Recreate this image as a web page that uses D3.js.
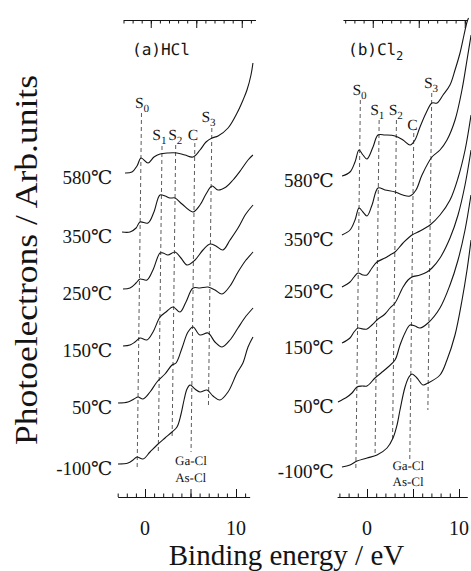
<!DOCTYPE html>
<html>
<head>
<meta charset="utf-8">
<script src="https://cdn.jsdelivr.net/npm/d3@7"></script>
<style>
  body { margin: 0; background: #fff; }
  svg { display: block; }
</style>
</head>
<body>
<svg id="chart" width="471" height="571"></svg>
<script>
const temps = ["580℃", "350℃", "250℃", "150℃", "50℃", "-100℃"]
const peakNames = ["S0", "S1", "S2", "C", "S3"]
const majorTicks = [0, 5, 10]
const tickLabels = [0, 10]

// (a) HCl : binding energy (eV), intensity above each trace's own baseline (arb.)
const hclOffsets = [324, 265, 208, 151, 94, 33]
const hclPeaks = [-0.9, 1.4, 2.9, 5.0, 6.85]
const hclPeakTop = [384, 351, 352, 354, 369]
const hclPeakBottom = [29, 44, 60, 45, 92]
const hclNameE = [-0.85, 1.1, 2.85, 4.8, 6.48]
const hclNameV = [389, 357, 357, 357, 375]
const hcl580 = [[-2.63,0],[-1.87,1],[-1.32,7],[-0.89,15],[-0.12,10],[0.53,16],[1.19,19],[2.07,20],[3.05,20],[3.93,18],[4.82,16],[5.58,23],[6.23,31],[6.88,35],[7.54,37],[8.63,45],[9.6,60],[10.24,73],[10.66,83],[11.08,98],[11.28,110]]
const hcl350 = [[-2.88,0],[-2.0,0],[-1.34,4],[-0.92,10],[-0.04,9],[0.6,20],[1.24,37],[1.8,36],[2.34,34],[2.9,34],[3.67,28],[4.89,20],[5.65,27],[6.3,38],[6.95,46],[7.61,42],[8.49,45],[9.25,52],[10.1,62],[10.87,72],[11.4,77]]
const hcl250 = [[-2.7,0],[-1.93,1],[-1.27,6],[-0.84,10],[-0.07,9],[0.57,19],[1.32,36],[1.65,36],[2.2,34],[2.97,37],[3.63,31],[4.3,24],[5.18,29],[6.04,39],[6.8,45],[7.46,43],[8.23,39],[9.0,49],[9.86,61],[10.7,75],[11.48,84]]
const hcl150 = [[-2.62,0],[-1.86,1],[-1.31,4],[-0.76,8],[0.0,6],[0.66,14],[1.41,29],[2.06,34],[2.82,39],[3.6,34],[4.24,44],[5.0,58],[5.76,58],[6.64,59],[7.42,56],[8.19,52],[9.06,60],[9.92,74],[10.78,86],[11.54,94]]
const hcl50 = [[-3.09,0],[-1.99,1],[-1.34,4],[-0.9,6],[-0.35,4],[0.41,11],[1.16,21],[2.03,29],[2.79,38],[3.23,40],[3.87,55],[4.5,71],[5.05,76],[5.82,68],[6.7,70],[7.48,61],[8.26,56],[9.13,63],[9.99,75],[10.86,87],[11.62,95]]
const hclM100 = [[-3.01,0],[-1.91,1],[-1.36,4],[-0.93,7],[-0.27,5],[0.49,12],[1.25,19],[2.12,26],[2.88,32],[3.42,37],[3.85,50],[4.16,64],[4.47,75],[4.8,79],[5.35,75],[5.9,72],[6.67,74],[7.34,68],[8.11,64],[8.98,72],[9.94,91],[10.58,101],[11.12,117],[11.65,127]]

// (b) Cl2
const cl2Offsets = [321, 262, 210, 154, 95, 30]
const cl2Peaks = [-1.25, 0.82, 2.7, 4.6, 6.5]
const cl2PeakTop = [397, 377, 377, 364, 404]
const cl2PeakBottom = [27, 42, 55, 35, 87]
const cl2NameE = [-1.35, 0.62, 2.62, 4.45, 6.41]
const cl2NameV = [402, 382, 382, 367, 409]
const cl2580 = [[-3.14,0],[-2.28,4],[-1.75,14],[-1.33,26],[-0.89,21],[-0.45,17],[0.19,29],[0.71,41],[1.48,41],[2.57,40],[3.44,36],[4.21,31],[4.74,36],[5.27,49],[5.91,63],[6.54,73],[7.09,73],[7.73,81],[8.47,91],[9.0,106],[9.52,123],[9.93,141],[10.24,154],[10.4,158]]
const cl2350 = [[-3.07,0],[-2.2,5],[-1.67,15],[-1.25,27],[-0.82,23],[-0.37,19],[0.16,30],[0.79,47],[1.55,45],[2.64,43],[3.5,40],[4.27,39],[4.92,45],[5.55,60],[6.61,78],[7.47,85],[8.22,95],[9.07,115],[9.78,145],[10.29,175],[10.7,200]]
const cl2250 = [[-3.0,0],[-2.13,5],[-1.7,10],[-1.27,14],[-0.73,12],[-0.3,12],[0.24,19],[0.77,25],[1.64,29],[2.18,32],[2.72,35],[3.58,44],[4.54,52],[5.41,56],[6.16,60],[6.49,62],[7.56,72],[8.63,87],[9.47,109],[10.2,137],[10.8,172]]
const cl2150 = [[-2.92,0],[-2.06,5],[-1.63,11],[-1.2,15],[-0.66,14],[-0.22,14],[0.31,18],[0.85,23],[1.71,29],[2.25,35],[2.79,40],[3.64,56],[4.17,63],[4.6,66],[5.47,68],[6.22,71],[6.76,75],[7.62,85],[8.68,105],[9.52,128],[10.24,158],[10.85,193]]
const cl250 = [[-3.28,0],[-2.3,5],[-1.77,9],[-1.23,15],[-0.69,16],[-0.15,16],[0.71,24],[1.36,29],[2.0,34],[2.86,42],[3.39,57],[3.91,69],[4.45,77],[4.99,76],[5.54,74],[6.4,79],[7.68,94],[8.74,117],[9.58,142],[10.3,172],[10.9,207]]
const cl2M100 = [[-2.76,0],[-1.89,2],[-1.13,6],[-0.05,9],[1.03,12],[2.11,19],[2.75,29],[3.17,42],[3.47,57],[3.99,80],[4.4,90],[4.73,93],[5.27,89],[5.94,82],[6.48,84],[7.77,92],[8.51,107],[9.35,132],[10.07,167],[10.57,197],[10.97,227]]

const serif = "'Liberation Serif', 'Times New Roman', 'DejaVu Serif', serif"
const ink = "#141414"

const svg = d3.select("#chart")
const yBase = 497
const y = d3.scaleLinear().domain([0, 480]).range([yBase, yBase - 480])
const line = d3.line().curve(d3.curveCatmullRom.alpha(0.5))

const panels = [
  { title: "(a)HCl", sub: "", titleE: -2.02, x0: 145, k: 9.1, bottom: [-3, 11.5], top: [-3, 11.5],
    offsets: hclOffsets, spectra: [hcl580, hcl350, hcl250, hcl150, hcl50, hclM100],
    peaks: hclPeaks, peakTop: hclPeakTop, peakBottom: hclPeakBottom, nameE: hclNameE, nameV: hclNameV,
    bondE: 5.0, bondV: [32, 15] },
  { title: "(b)Cl", sub: "2", titleE: -2.65, x0: 367, k: 9.2, bottom: [-3.25, 10.9], top: [-3.25, 10.25],
    offsets: cl2Offsets, spectra: [cl2580, cl2350, cl2250, cl2150, cl250, cl2M100],
    peaks: cl2Peaks, peakTop: cl2PeakTop, peakBottom: cl2PeakBottom, nameE: cl2NameE, nameV: cl2NameV,
    bondE: 4.45, bondV: [27, 11] }
]

panels.forEach(p => {
  const x = d3.scaleLinear().domain([0, 10]).range([p.x0, p.x0 + 10 * p.k])
  const xb = x.copy().domain(p.bottom).range(p.bottom.map(x))
  const xt = x.copy().domain(p.top).range(p.top.map(x))

  // bottom axis (ticks point up)
  const gb = svg.append("g").attr("transform", `translate(0,${yBase})`)
  gb.call(d3.axisTop(xb).tickValues(d3.range(Math.ceil(p.bottom[0]), p.bottom[1])).tickSize(3.5).tickSizeOuter(0).tickFormat(""))
  gb.call(g => g.append("g").call(d3.axisTop(xb).tickValues(majorTicks).tickSize(8).tickFormat("")).select(".domain").remove())
  gb.selectAll("path, line").attr("stroke", ink).attr("stroke-width", 1)

  svg.append("g").selectAll("text").data(tickLabels).join("text")
    .attr("x", d => x(d)).attr("y", 535)
    .attr("text-anchor", "middle")
    .attr("font-family", serif).attr("font-size", 20).attr("fill", ink)
    .text(d => d)

  // temperature labels
  svg.append("g").selectAll("text").data(temps).join("text")
    .attr("x", x(-3.6))
    .attr("y", (d, i) => y(p.offsets[i]) + 4)
    .attr("dy", "0.35em")
    .attr("text-anchor", "end")
    .attr("font-family", serif).attr("font-size", 19).attr("fill", ink)
    .text(d => d)

  // the scanned figure is slightly sheared
  const g = svg.append("g")
    .attr("transform", `translate(0,${yBase}) skewX(-0.7) translate(0,${-yBase})`)

  const gt = g.append("g").attr("transform", `translate(0,${y(477)})`)
  gt.call(d3.axisBottom(xt).tickValues(d3.range(Math.ceil(p.top[0]), p.top[1])).tickSize(3.5).tickSizeOuter(0).tickFormat(""))
  gt.call(gg => gg.append("g").call(d3.axisBottom(xt).tickValues(majorTicks).tickSize(8).tickFormat("")).select(".domain").remove())
  gt.selectAll("path, line").attr("stroke", ink).attr("stroke-width", 1)

  const title = g.append("text")
    .attr("x", x(p.titleE)).attr("y", y(442))
    .attr("font-family", "'DejaVu Sans Mono', 'Liberation Mono', monospace")
    .attr("font-size", 16).attr("fill", ink)
    .text(p.title)
  if (p.sub) title.append("tspan").attr("dy", 5).attr("font-size", 12).text(p.sub)

  // peak guide lines
  g.append("g").selectAll("line").data(p.peaks).join("line")
    .attr("x1", d => x(d)).attr("x2", d => x(d))
    .attr("y1", (d, i) => y(p.peakTop[i])).attr("y2", (d, i) => y(p.peakBottom[i]))
    .attr("stroke", "#333").attr("stroke-width", 0.8)
    .attr("stroke-dasharray", "4,3")

  // peak names
  const names = g.append("g").selectAll("text").data(peakNames).join("text")
    .attr("x", (d, i) => x(p.nameE[i])).attr("y", (d, i) => y(p.nameV[i]))
    .attr("text-anchor", "middle")
    .attr("font-family", serif).attr("font-size", 15.5).attr("fill", ink)
  names.append("tspan").text(d => d[0])
  names.filter(d => d.length > 1).append("tspan")
    .attr("dy", 4).attr("font-size", 11).text(d => d.slice(1))

  // spectra
  g.append("g").selectAll("path").data(p.spectra).join("path")
    .attr("d", (s, i) => line(s.map(([e, v]) => [x(e), y(v + p.offsets[i])])))
    .attr("fill", "none").attr("stroke", ink).attr("stroke-width", 1.1)

  g.append("g").selectAll("text").data(["Ga-Cl", "As-Cl"]).join("text")
    .attr("x", x(p.bondE)).attr("y", (d, i) => y(p.bondV[i]))
    .attr("text-anchor", "middle")
    .attr("font-family", serif).attr("font-size", 13).attr("fill", ink)
    .text(d => d)
})

svg.append("text")
  .attr("transform", "translate(37,260) rotate(-90)")
  .attr("text-anchor", "middle")
  .attr("font-family", serif).attr("font-size", 32).attr("fill", ink)
  .attr("textLength", 370).attr("lengthAdjust", "spacingAndGlyphs")
  .text("Photoelectrons / Arb.units")

svg.append("text")
  .attr("x", 286.5).attr("y", 565)
  .attr("text-anchor", "middle")
  .attr("font-family", serif).attr("font-size", 29).attr("fill", ink)
  .text("Binding energy / eV")
</script>
</body>
</html>
